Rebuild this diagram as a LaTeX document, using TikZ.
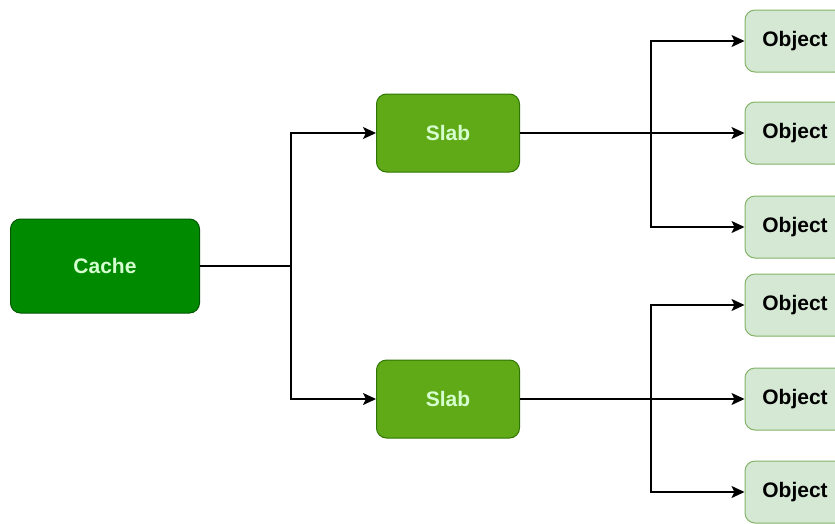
\documentclass[tikz,border=0pt]{standalone}
\usepackage{fontspec}
\setmainfont{Liberation Sans}
\usetikzlibrary{arrows.meta}
\definecolor{cachefill}{HTML}{008A00}
\definecolor{cachedraw}{HTML}{005700}
\definecolor{slabfill}{HTML}{60A917}
\definecolor{slabdraw}{HTML}{2D7600}
\definecolor{objfill}{HTML}{D5E8D4}
\definecolor{objdraw}{HTML}{82B366}
\definecolor{lighttext}{HTML}{D6FFD0}
\tikzset{
  base/.style={rounded corners=10pt, line width=1pt, font=\fontsize{21}{24}\selectfont\bfseries, inner sep=0pt},
  cachebox/.style={base, fill=cachefill, draw=cachedraw, text=lighttext, minimum width=189pt, minimum height=94pt},
  slabbox/.style={base, fill=slabfill, draw=slabdraw, text=lighttext, minimum width=143pt, minimum height=78pt},
  objbox/.style={base, fill=objfill, draw=objdraw, text=black, minimum width=100pt, minimum height=62pt},
  arr/.style={line width=1.6pt, -{Stealth[length=13pt,width=12pt,inset=3pt]}},
  ln/.style={line width=1.6pt}
}
\begin{document}
\begin{tikzpicture}[x=1pt,y=-1pt]
\useasboundingbox[fill=white] (0,0) rectangle (835,523);
\node[cachebox] (cache) at (105,266) {Cache};
\node[slabbox] (s1) at (448,133) {Slab};
\node[slabbox] (s2) at (448,399) {Slab};
\node[objbox] (o1) at (795,41) {Object};
\node[objbox] (o2) at (795,133) {Object};
\node[objbox] (o3) at (795,227) {Object};
\node[objbox] (o4) at (795,305) {Object};
\node[objbox] (o5) at (795,399) {Object};
\node[objbox] (o6) at (795,492) {Object};
\coordinate (j1) at (291,266);
\coordinate (j2) at (651,133);
\coordinate (j3) at (651,399);
\draw[ln] (cache.east) -- (j1);
\draw[arr] (j1) |- (s1.west);
\draw[arr] (j1) |- (s2.west);
\draw[arr] (s1.east) -- (o2.west);
\draw[arr] (j2) |- (o1.west);
\draw[arr] (j2) |- (o3.west);
\draw[arr] (s2.east) -- (o5.west);
\draw[arr] (j3) |- (o4.west);
\draw[arr] (j3) |- (o6.west);
\end{tikzpicture}
\end{document}
